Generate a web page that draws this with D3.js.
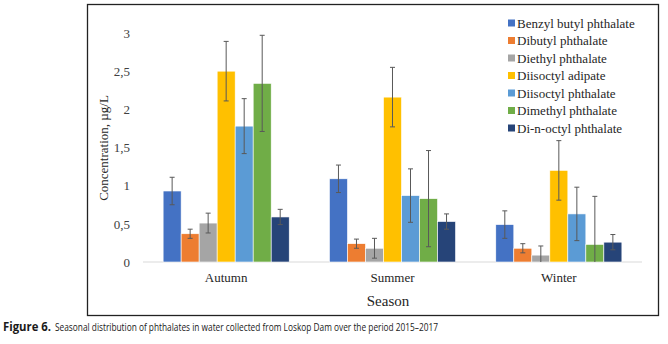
<!DOCTYPE html>
<html>
<head>
<meta charset="utf-8">
<script src="https://cdn.jsdelivr.net/npm/d3@7"></script>
<style>
  body { margin: 0; background: #fff; }
  svg { display: block; }
</style>
</head>
<body>
<svg id="chart"></svg>
<script>
// chart data
const seasons = ["Autumn", "Summer", "Winter"];
const compounds = ["Benzyl butyl phthalate", "Dibutyl phthalate", "Diethyl phthalate",
  "Diisoctyl adipate", "Diisoctyl phthalate", "Dimethyl phthalate", "Di-n-octyl phthalate"];
const colors = ["#4472C4", "#ED7D31", "#A5A5A5", "#FFC000", "#5B9BD5", "#70AD47", "#264478"];
// one row per season, one value per compound
const means = [
  [0.93, 0.37, 0.51, 2.50, 1.78, 2.34, 0.59],
  [1.09, 0.24, 0.18, 2.16, 0.87, 0.83, 0.53],
  [0.49, 0.18, 0.09, 1.20, 0.63, 0.23, 0.26]
];
const errors = [
  [0.18, 0.06, 0.13, 0.39, 0.36, 0.63, 0.10],
  [0.18, 0.06, 0.13, 0.39, 0.35, 0.63, 0.10],
  [0.18, 0.06, 0.12, 0.39, 0.35, 0.63, 0.10]
];
const yTicks = [0, 0.5, 1, 1.5, 2, 2.5, 3];

const W = 668, H = 344;
const plot = {left: 143, right: 642, top: 33, bottom: 262};
const serif = "'Liberation Serif', 'Times New Roman', serif";

const svg = d3.select("#chart").attr("width", W).attr("height", H);

// frame around the chart
svg.append("rect")
  .attr("x", 87.5).attr("y", 4.5)
  .attr("width", 571).attr("height", 311)
  .attr("fill", "none")
  .attr("stroke", "#222")
  .attr("stroke-width", 1.3);

const x0 = d3.scaleBand()
  .domain(seasons)
  .range([plot.left, plot.right])
  .paddingInner(0.242)
  .paddingOuter(0.121);

const x1 = d3.scaleBand()
  .domain(compounds)
  .range([0, x0.bandwidth()]);

const y = d3.scaleLinear()
  .domain([0, 3])
  .range([plot.bottom, plot.top]);

// y axis (labels only)
const yAxis = d3.axisLeft(y)
  .tickValues(yTicks)
  .tickSize(0)
  .tickPadding(13)
  .tickFormat(d => String(d).replace(".", ","));

const yAxisG = svg.append("g")
  .attr("transform", `translate(${plot.left},0)`)
  .call(yAxis);
yAxisG.select(".domain").remove();
yAxisG.selectAll("text")
  .attr("font-family", serif)
  .attr("font-size", 13)
  .attr("fill", "#404040");

// baseline
svg.append("line")
  .attr("x1", plot.left).attr("x2", plot.right)
  .attr("y1", y(0)).attr("y2", y(0))
  .attr("stroke", "#d9d9d9")
  .attr("stroke-width", 1);

// bars
const groups = svg.append("g").selectAll("g")
  .data(seasons)
  .join("g")
  .attr("transform", d => `translate(${x0(d)},0)`);

const rows = (s, i) => compounds.map((c, j) => ({c, j, v: means[i][j], e: errors[i][j]}));

groups.selectAll("rect")
  .data(rows)
  .join("rect")
  .attr("x", d => x1(d.c))
  .attr("y", d => y(d.v))
  .attr("width", x1.bandwidth())
  .attr("height", d => y(0) - y(d.v))
  .attr("fill", d => colors[d.j])
  .attr("stroke", "#fff")
  .attr("stroke-width", 0.6);

// error bars
const eb = groups.selectAll("g.err")
  .data(rows)
  .join("g")
  .attr("class", "err")
  .attr("stroke", "#595959")
  .attr("stroke-width", 1);

const cx = d => x1(d.c) + x1.bandwidth() / 2;
const lo = d => y(Math.max(0, d.v - d.e));
const hi = d => y(d.v + d.e);

eb.append("line")
  .attr("x1", cx).attr("x2", cx)
  .attr("y1", lo).attr("y2", hi);
eb.append("line")
  .attr("x1", d => cx(d) - 2.5).attr("x2", d => cx(d) + 2.5)
  .attr("y1", hi).attr("y2", hi);
eb.filter(d => d.v - d.e > 0).append("line")
  .attr("x1", d => cx(d) - 2.5).attr("x2", d => cx(d) + 2.5)
  .attr("y1", lo).attr("y2", lo);

// category labels
svg.append("g").selectAll("text")
  .data(seasons)
  .join("text")
  .attr("x", d => x0(d) + x0.bandwidth() / 2)
  .attr("y", 282)
  .attr("text-anchor", "middle")
  .attr("font-family", serif)
  .attr("font-size", 13)
  .attr("fill", "#262626")
  .text(d => d);

// axis titles
svg.append("text")
  .attr("x", 388)
  .attr("y", 306)
  .attr("text-anchor", "middle")
  .attr("font-family", serif)
  .attr("font-size", 15)
  .attr("fill", "#262626")
  .text("Season");

svg.append("text")
  .attr("transform", "rotate(-90)")
  .attr("x", -148)
  .attr("y", 108)
  .attr("text-anchor", "middle")
  .attr("font-family", serif)
  .attr("font-size", 13)
  .attr("fill", "#262626")
  .text("Concentration, µg/L");

// legend
const legend = svg.append("g")
  .attr("transform", "translate(508,23)");

const items = legend.selectAll("g")
  .data(compounds)
  .join("g")
  .attr("transform", (d, i) => `translate(0,${i * 17.5})`);

items.append("rect")
  .attr("x", 0).attr("y", -3.5)
  .attr("width", 7).attr("height", 7)
  .attr("fill", (d, i) => colors[i]);

items.append("text")
  .attr("x", 9)
  .attr("y", 4.5)
  .attr("font-family", serif)
  .attr("font-size", 13)
  .attr("fill", "#262626")
  .text(d => d);

// caption, bold label and body as separate texts
const capFont = "'Liberation Sans Narrow', 'Open Sans', sans-serif";
svg.append("text")
  .attr("x", 3)
  .attr("y", 331)
  .attr("font-family", capFont)
  .attr("font-size", 12.5)
  .attr("font-weight", "bold")
  .attr("fill", "#1a1a1a")
  .attr("textLength", 48)
  .attr("lengthAdjust", "spacingAndGlyphs")
  .text("Figure 6.");
svg.append("text")
  .attr("x", 55)
  .attr("y", 331)
  .attr("font-family", capFont)
  .attr("font-size", 11.5)
  .attr("fill", "#1a1a1a")
  .attr("textLength", 383)
  .attr("lengthAdjust", "spacingAndGlyphs")
  .text("Seasonal distribution of phthalates in water collected from Loskop Dam over the period 2015–2017");
</script>
</body>
</html>
